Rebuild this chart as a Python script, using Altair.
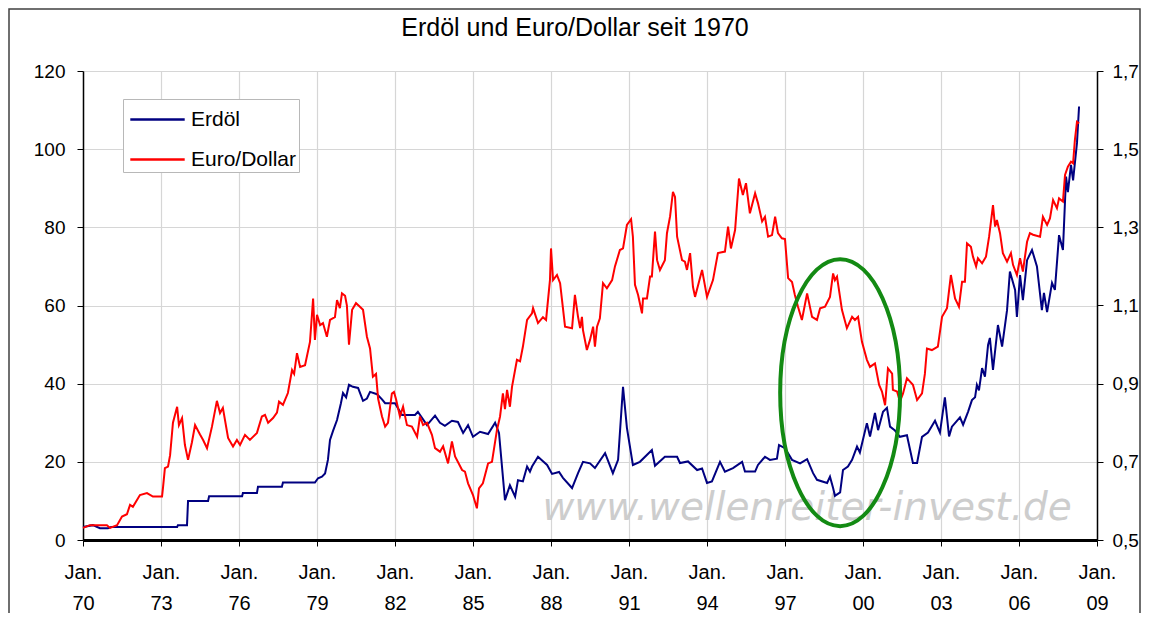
import altair as alt
import pandas as pd

# ---------------- data ----------------
oel_jahr = [1970.0, 1970.38, 1970.65, 1970.96, 1971.08, 1973.62, 1973.65, 1974.0, 1974.04, 1974.81,
            1974.85, 1976.12, 1976.15, 1976.69, 1976.73, 1977.65, 1977.69, 1978.92, 1979.04, 1979.19,
            1979.31, 1979.42, 1979.5, 1979.62, 1979.77, 1979.92, 1980.0, 1980.12, 1980.23, 1980.38,
            1980.58, 1980.77, 1980.92, 1981.04, 1981.31, 1981.5, 1981.62, 1982.0, 1982.27, 1982.77,
            1982.88, 1983.23, 1983.54, 1983.73, 1983.92, 1984.19, 1984.42, 1984.62, 1984.81, 1985.0,
            1985.27, 1985.58, 1985.85, 1986.0, 1986.23, 1986.42, 1986.62, 1986.73, 1986.92, 1987.08,
            1987.19, 1987.27, 1987.5, 1987.85, 1988.04, 1988.31, 1988.46, 1988.81, 1989.04, 1989.23,
            1989.5, 1989.69, 1990.08, 1990.38, 1990.58, 1990.77, 1990.92, 1991.15, 1991.42, 1991.88,
            1992.0, 1992.38, 1992.85, 1992.96, 1993.27, 1993.62, 1993.81, 1994.0, 1994.19, 1994.5,
            1994.69, 1995.0, 1995.35, 1995.46, 1995.85, 1995.96, 1996.23, 1996.42, 1996.69, 1996.77,
            1997.0, 1997.27, 1997.58, 1997.85, 1998.08, 1998.23, 1998.62, 1998.73, 1998.85, 1998.92,
            1999.12, 1999.23, 1999.42, 1999.58, 1999.77, 1999.88, 2000.15, 2000.27, 2000.46, 2000.58,
            2000.77, 2000.92, 2001.04, 2001.23, 2001.42, 2001.69, 2001.92, 2002.08, 2002.27, 2002.5,
            2002.77, 2002.96, 2003.15, 2003.31, 2003.42, 2003.73, 2003.85, 2004.04, 2004.19, 2004.31,
            2004.38, 2004.46, 2004.58, 2004.69, 2004.81, 2004.88, 2005.0, 2005.19, 2005.35, 2005.54,
            2005.65, 2005.85, 2005.92, 2006.04, 2006.15, 2006.31, 2006.5, 2006.69, 2006.88, 2006.96,
            2007.08, 2007.27, 2007.38, 2007.54, 2007.69, 2007.81, 2007.88, 2008.0, 2008.08, 2008.23,
            2008.31]
oel_wert = [3.3, 3.8, 3.0, 3.0, 3.3, 3.3, 3.8, 3.8, 10.0, 10.0,
            11.2, 11.2, 12.0, 12.0, 13.6, 13.6, 14.7, 14.7, 15.8, 16.2,
            17.0, 20.5, 25.6, 28.0, 30.7, 35.0, 37.6, 36.5, 39.7, 39.2,
            38.9, 35.6, 36.2, 37.9, 37.3, 36.0, 35.0, 35.0, 32.0, 32.0,
            32.8, 29.4, 31.8, 30.0, 29.2, 30.5, 30.2, 27.4, 29.4, 26.4,
            27.7, 27.1, 30.0, 27.4, 10.2, 14.0, 11.1, 15.3, 15.0, 18.8,
            17.5, 18.8, 21.3, 19.2, 16.9, 17.4, 15.9, 13.3, 17.1, 20.0,
            19.6, 18.4, 22.2, 17.1, 20.5, 39.2, 28.7, 19.2, 20.0, 23.0,
            19.0, 21.3, 21.3, 19.7, 20.1, 17.9, 18.3, 14.6, 15.0, 20.0,
            17.5, 18.4, 20.0, 17.5, 17.5, 19.2, 21.3, 20.5, 20.8, 24.3,
            23.5, 20.5, 19.6, 20.7, 17.1, 15.4, 14.6, 16.2, 13.3, 11.3,
            12.2, 17.9, 18.8, 20.5, 23.9, 22.4, 29.9, 26.5, 32.5, 28.1,
            32.8, 33.8, 29.0, 28.0, 26.4, 26.8, 19.7, 19.7, 26.4, 27.5,
            30.5, 27.5, 36.5, 26.5, 29.0, 31.4, 29.5, 32.8, 35.8, 36.5,
            39.7, 38.3, 44.0, 41.8, 49.9, 51.7, 43.5, 55.0, 49.5, 58.8,
            68.7, 64.0, 57.1, 67.8, 61.4, 71.6, 74.2, 70.0, 58.8, 63.2,
            58.3, 65.8, 64.0, 78.0, 74.2, 93.0, 89.0, 96.0, 92.0, 101.6,
            110.9]

eur_jahr = [1970.0, 1970.27, 1970.92, 1971.04, 1971.31, 1971.5, 1971.69, 1971.81, 1971.92, 1972.19,
            1972.46, 1972.69, 1973.04, 1973.08, 1973.15, 1973.27, 1973.35, 1973.46, 1973.62, 1973.69,
            1973.81, 1973.92, 1974.04, 1974.19, 1974.31, 1974.5, 1974.62, 1974.77, 1974.96, 1975.15,
            1975.27, 1975.38, 1975.58, 1975.77, 1975.92, 1976.04, 1976.23, 1976.42, 1976.69, 1976.88,
            1977.0, 1977.12, 1977.31, 1977.46, 1977.54, 1977.69, 1977.88, 1978.04, 1978.12, 1978.23,
            1978.35, 1978.54, 1978.73, 1978.85, 1978.92, 1979.0, 1979.12, 1979.23, 1979.38, 1979.5,
            1979.69, 1979.77, 1979.88, 1979.96, 1980.08, 1980.15, 1980.23, 1980.35, 1980.5, 1980.65,
            1980.77, 1980.92, 1981.04, 1981.15, 1981.27, 1981.35, 1981.5, 1981.62, 1981.73, 1981.88,
            1981.96, 1982.04, 1982.19, 1982.31, 1982.46, 1982.65, 1982.85, 1982.96, 1983.08, 1983.23,
            1983.42, 1983.54, 1983.73, 1983.85, 1984.04, 1984.19, 1984.31, 1984.58, 1984.69, 1984.81,
            1985.0, 1985.15, 1985.23, 1985.38, 1985.58, 1985.73, 1985.92, 1986.04, 1986.15, 1986.23,
            1986.31, 1986.42, 1986.5, 1986.69, 1986.81, 1986.92, 1987.08, 1987.27, 1987.31, 1987.5,
            1987.69, 1987.81, 1987.96, 1988.0, 1988.08, 1988.23, 1988.35, 1988.54, 1988.81, 1988.92,
            1989.04, 1989.12, 1989.19, 1989.23, 1989.38, 1989.5, 1989.62, 1989.69, 1989.77, 1989.88,
            1990.0, 1990.15, 1990.35, 1990.46, 1990.65, 1990.77, 1990.92, 1991.08, 1991.15, 1991.23,
            1991.35, 1991.5, 1991.54, 1991.69, 1991.81, 1991.88, 1992.0, 1992.08, 1992.19, 1992.38,
            1992.46, 1992.58, 1992.69, 1992.77, 1992.85, 1993.04, 1993.15, 1993.23, 1993.35, 1993.46,
            1993.54, 1993.81, 1994.0, 1994.23, 1994.42, 1994.69, 1994.81, 1994.92, 1995.08, 1995.23,
            1995.38, 1995.5, 1995.65, 1995.85, 1995.96, 1996.12, 1996.23, 1996.35, 1996.5, 1996.62,
            1996.73, 1996.88, 1997.0, 1997.12, 1997.27, 1997.38, 1997.5, 1997.65, 1997.85, 1998.04,
            1998.23, 1998.35, 1998.54, 1998.73, 1998.85, 1998.92, 1999.0, 1999.19, 1999.38, 1999.58,
            1999.69, 1999.81, 1999.96, 2000.15, 2000.27, 2000.46, 2000.62, 2000.73, 2000.85, 2000.96,
            2001.12, 2001.15, 2001.31, 2001.42, 2001.54, 2001.69, 2001.92, 2002.08, 2002.27, 2002.38,
            2002.46, 2002.65, 2002.88, 2003.04, 2003.23, 2003.38, 2003.54, 2003.69, 2003.81, 2003.92,
            2004.0, 2004.15, 2004.23, 2004.35, 2004.42, 2004.58, 2004.73, 2004.85, 2005.0, 2005.08,
            2005.15, 2005.27, 2005.38, 2005.54, 2005.69, 2005.77, 2005.92, 2006.04, 2006.15, 2006.31,
            2006.42, 2006.54, 2006.81, 2006.92, 2007.08, 2007.19, 2007.31, 2007.46, 2007.54, 2007.69,
            2007.77, 2007.88, 2008.0, 2008.08, 2008.15, 2008.23, 2008.31]
eur_wert = [0.531, 0.538, 0.538, 0.531, 0.538, 0.560, 0.566, 0.590, 0.585, 0.615,
            0.620, 0.611, 0.611, 0.636, 0.684, 0.688, 0.717, 0.800, 0.841, 0.794,
            0.812, 0.743, 0.705, 0.750, 0.794, 0.770, 0.756, 0.735, 0.790, 0.856,
            0.825, 0.838, 0.761, 0.739, 0.756, 0.743, 0.769, 0.756, 0.774, 0.816,
            0.820, 0.800, 0.812, 0.826, 0.854, 0.846, 0.876, 0.935, 0.925, 0.978,
            0.943, 0.947, 1.007, 1.118, 1.012, 1.076, 1.050, 1.055, 1.020, 1.063,
            1.070, 1.114, 1.093, 1.131, 1.125, 1.100, 1.000, 1.089, 1.106, 1.097,
            1.089, 1.020, 0.990, 0.918, 0.925, 0.862, 0.816, 0.790, 0.800, 0.875,
            0.879, 0.860, 0.816, 0.841, 0.794, 0.790, 0.764, 0.816, 0.794, 0.800,
            0.769, 0.735, 0.726, 0.740, 0.696, 0.752, 0.714, 0.679, 0.675, 0.645,
            0.615, 0.581, 0.632, 0.645, 0.696, 0.700, 0.781, 0.816, 0.875, 0.835,
            0.884, 0.841, 0.892, 0.961, 0.957, 0.995, 1.063, 1.080, 1.093, 1.055,
            1.070, 1.063, 1.165, 1.246, 1.165, 1.178, 1.157, 1.046, 1.042, 1.127,
            1.071, 1.042, 1.071, 1.037, 0.986, 1.012, 1.046, 0.995, 1.046, 1.067,
            1.157, 1.144, 1.165, 1.200, 1.242, 1.246, 1.306, 1.321, 1.276, 1.153,
            1.127, 1.080, 1.118, 1.118, 1.174, 1.174, 1.289, 1.216, 1.191, 1.216,
            1.285, 1.328, 1.391, 1.378, 1.276, 1.216, 1.212, 1.191, 1.234, 1.148,
            1.122, 1.191, 1.122, 1.165, 1.234, 1.238, 1.302, 1.246, 1.293, 1.425,
            1.383, 1.413, 1.336, 1.387, 1.362, 1.315, 1.327, 1.276, 1.280, 1.327,
            1.285, 1.272, 1.270, 1.170, 1.160, 1.127, 1.097, 1.063, 1.131, 1.071,
            1.063, 1.093, 1.097, 1.122, 1.182, 1.165, 1.174, 1.089, 1.042, 1.071,
            1.063, 1.071, 1.007, 0.961, 0.943, 0.952, 0.897, 0.880, 0.845, 0.939,
            0.926, 0.884, 0.880, 0.854, 0.875, 0.914, 0.897, 0.858, 0.875, 0.925,
            0.990, 0.986, 0.995, 1.071, 1.093, 1.178, 1.118, 1.097, 1.161, 1.161,
            1.259, 1.250, 1.225, 1.200, 1.221, 1.208, 1.225, 1.276, 1.357, 1.302,
            1.319, 1.285, 1.234, 1.212, 1.234, 1.204, 1.178, 1.221, 1.187, 1.263,
            1.285, 1.281, 1.276, 1.327, 1.306, 1.323, 1.370, 1.349, 1.374, 1.366,
            1.434, 1.455, 1.468, 1.464, 1.524, 1.570, 1.566]

reihen = ["Erdöl", "Euro/Dollar"]
farben = ["#000080", "#ff0000"]
x_ticks = [1970, 1973, 1976, 1979, 1982, 1985, 1988, 1991, 1994, 1997, 2000, 2003, 2006, 2009]
oel_ticks = [0, 20, 40, 60, 80, 100, 120]
eur_ticks = [0.5, 0.7, 0.9, 1.1, 1.3, 1.5, 1.7]

titel = ["Erdöl und Euro/Dollar seit 1970"]
wasserzeichen = ["www.wellenreiter-invest.de"]
wz_jahr = [1997.85]
wz_wert = [8.2]
ellipse_jahr = [1999.12]
ellipse_wert = [37.7]

# ---------------- tables ----------------
df_oel = pd.DataFrame({"Jahr": oel_jahr, "Wert": oel_wert, "Reihe": reihen[0]})
df_eur = pd.DataFrame({"Jahr": eur_jahr, "Wert": eur_wert, "Reihe": reihen[1]})
df_wz = pd.DataFrame({"Jahr": wz_jahr, "Wert": wz_wert, "Text": wasserzeichen})
df_ell = pd.DataFrame({"Jahr": ellipse_jahr, "Wert": ellipse_wert})
df_titel = pd.DataFrame({"Text": titel})

FONT = "Liberation Sans"

x_enc = alt.X(
    "Jahr:Q",
    scale=alt.Scale(domain=[1970, 2009], nice=False, zero=False),
    axis=alt.Axis(
        values=x_ticks,
        labelExpr="['Jan.', slice(format(datum.value, 'd'), 2)]",
        title=None, grid=True, gridColor="#d6d6d6", gridWidth=1.2,
        domainColor="black", domainWidth=3, tickColor="black", tickSize=6,
        labelFontSize=20, labelPadding=16, labelLineHeight=31, labelBaseline="top",
        labelFont=FONT, labelColor="black", labelFlush=False, labelOverlap=False,
    ),
)

oel_scale = alt.Scale(domain=[0, 120], nice=False, zero=False)
eur_scale = alt.Scale(domain=[0.5, 1.7], nice=False, zero=False)

oel_axis = alt.Axis(
    values=oel_ticks, title=None, grid=True, gridColor="#d6d6d6", gridWidth=1.2,
    domainColor="black", domainWidth=1.5, tickColor="black", tickSize=6,
    labelFontSize=19, labelPadding=12, labelFont=FONT, labelColor="black",
    orient="left", labelFlush=False,
)
eur_axis = alt.Axis(
    values=eur_ticks, title=None, grid=False,
    domainColor="black", domainWidth=1.5, tickColor="black", tickSize=6,
    labelFontSize=19, labelPadding=9, labelFont=FONT, labelColor="black",
    orient="right", labelFlush=False,
    labelExpr="replace(format(datum.value, '.1f'), '.', ',')",
)

# legend symbol: a horizontal line longer than the legend's symbol cell
line_symbol = "M -1.6,0 L 1.6,0"
legend = alt.Legend(
    orient="none", legendX=40, legendY=28, title=None,
    strokeColor="#b8b8b8", fillColor="white", padding=2,
    symbolType=line_symbol, symbolSize=34 * 34, symbolStrokeWidth=2.5,
    symbolOffset=14, labelOffset=15,
    labelFontSize=21, labelFont=FONT, labelColor="black",
    rowPadding=11, cornerRadius=0,
)
color_enc = alt.Color("Reihe:N", scale=alt.Scale(domain=reihen, range=farben), legend=legend)

rahmen = alt.Chart(df_ell).mark_rect(
    fill=None, stroke="#404040", strokeWidth=1.5
).encode(
    x=alt.value(-74), x2=alt.value(1057), y=alt.value(-62), y2=alt.value(620)
)

titel_text = alt.Chart(df_titel).mark_text(
    font=FONT, fontSize=25, color="black", align="center", baseline="middle",
).encode(
    x=alt.value(492), y=alt.value(-43), text="Text:N",
)

wz = alt.Chart(df_wz).mark_text(
    font="DejaVu Sans", fontStyle="italic", fontSize=39, color="#c8c8c8",
    align="center", baseline="middle", opacity=0.9,
).encode(
    x=x_enc,
    y=alt.Y("Wert:Q", scale=oel_scale, axis=None),
    text="Text:N",
)

oel_line = alt.Chart(df_oel).mark_line(strokeWidth=2).encode(
    x=x_enc,
    y=alt.Y("Wert:Q", scale=oel_scale, axis=oel_axis),
    color=color_enc,
)

eur_line = alt.Chart(df_eur).mark_line(strokeWidth=2).encode(
    x=x_enc,
    y=alt.Y("Wert:Q", scale=eur_scale, axis=eur_axis),
    color=color_enc,
)

a, k = 0.449, 0.5523
ka = round(a * k, 4)
ell_path = (
    f"M 0,-1 C {ka},-1 {a},-{k} {a},0 C {a},{k} {ka},1 0,1 "
    f"C -{ka},1 -{a},{k} -{a},0 C -{a},-{k} -{ka},-1 0,-1 Z"
)
ellipse = alt.Chart(df_ell).mark_point(
    shape=ell_path, size=267 * 267, filled=False, stroke="#138a13",
    strokeWidth=4, opacity=1,
).encode(
    x=x_enc,
    y=alt.Y("Wert:Q", scale=oel_scale, axis=None),
)

chart = alt.layer(rahmen, titel_text, wz, oel_line, eur_line, ellipse).resolve_scale(
    y="independent"
).properties(
    width=1014, height=469,
    padding={"left": 75, "top": 63, "right": 44, "bottom": 73},
    autosize=alt.AutoSizeParams(type="none"),
).configure_view(
    stroke="#808080", strokeWidth=1
).configure(
    font=FONT
)

chart.save("out.html", embed_options={"renderer": "svg", "actions": False})
